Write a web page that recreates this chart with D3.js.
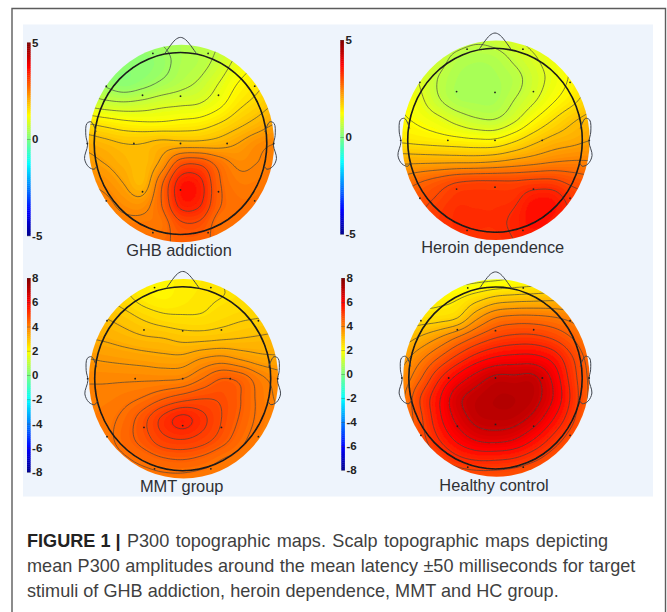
<!DOCTYPE html>
<html>
<head>
<meta charset="utf-8">
<script src="https://cdn.jsdelivr.net/npm/d3@7"></script>
<style>
  html, body { margin: 0; padding: 0; background: #fff; }
  svg { display: block; font-family: "Liberation Sans", Arial, sans-serif; }
</style>
</head>
<body>
<div class="container"></div>
<script>
// values, rows run front of head -> back, columns left -> right
const ghbGrid = [
  [0.3,0.3,0.3,0.3,0.4,0.5,0.6,0.7,0.9,1.1,1.3],
  [0.3,0.2,0.2,0.2,0.3,0.5,0.6,0.8,1.1,1.3,1.5],
  [0.5,0.35,0.2,0.3,0.45,0.6,0.75,1.0,1.3,1.5,1.7],
  [0.9,0.8,0.75,0.8,0.9,0.95,1.0,1.2,1.5,1.7,1.9],
  [1.6,1.5,1.4,1.35,1.35,1.4,1.45,1.6,1.8,2.0,2.2],
  [2.1,2.0,1.9,1.9,2.0,2.0,2.0,2.05,2.2,2.4,2.5],
  [2.3,2.2,2.05,1.95,2.3,3.0,3.05,2.7,2.45,2.5,2.6],
  [2.5,2.4,2.2,2.0,2.75,3.55,3.5,2.85,2.6,2.6,2.7],
  [2.7,2.6,2.4,2.35,2.8,3.5,3.45,2.85,2.7,2.7,2.8],
  [2.8,2.7,2.6,2.6,2.65,3.05,3.05,2.7,2.75,2.7,2.8],
  [2.8,2.8,2.7,2.7,2.75,2.85,2.85,2.75,2.7,2.7,2.7]
];
const heroinGrid = [
  [1.0,1.0,0.95,0.85,0.75,0.8,0.95,1.1,1.25,1.4,1.5],
  [1.1,1.0,0.85,0.6,0.52,0.56,0.75,0.95,1.15,1.35,1.5],
  [1.2,1.0,0.7,0.5,0.46,0.48,0.6,0.85,1.1,1.35,1.55],
  [1.3,1.1,0.75,0.52,0.47,0.48,0.7,0.95,1.25,1.5,1.75],
  [1.35,1.25,1.1,0.9,0.75,0.72,0.95,1.3,1.6,1.85,2.0],
  [1.55,1.5,1.45,1.4,1.35,1.35,1.55,1.8,2.0,2.1,2.2],
  [2.1,2.1,2.1,2.1,2.1,2.15,2.25,2.35,2.45,2.5,2.5],
  [2.6,2.75,2.9,3.05,3.1,3.1,3.1,3.15,3.15,3.0,2.9],
  [2.9,3.0,3.15,3.3,3.3,3.3,3.35,3.6,3.6,3.3,3.2],
  [3.0,3.1,3.25,3.35,3.35,3.35,3.45,3.65,3.55,3.4,3.3],
  [3.1,3.15,3.25,3.3,3.3,3.3,3.4,3.45,3.4,3.35,3.3]
];
const mmtGrid = [
  [2.6,2.5,2.4,2.3,2.25,2.3,2.4,2.5,2.6,2.7,2.8],
  [2.9,2.8,2.6,2.35,2.25,2.35,2.45,2.5,2.55,2.6,2.7],
  [3.2,3.1,2.95,2.75,2.6,2.55,2.55,2.65,2.75,2.8,2.85],
  [3.4,3.35,3.25,3.15,3.1,3.0,3.0,3.05,3.1,3.15,3.2],
  [3.7,3.65,3.6,3.55,3.5,3.5,3.7,3.8,3.65,3.5,3.45],
  [3.95,3.95,3.95,3.95,3.95,4.0,4.3,4.6,4.5,4.1,3.85],
  [4.1,4.1,4.2,4.35,4.6,4.8,4.9,4.85,4.6,4.2,3.95],
  [4.1,4.2,4.4,4.8,5.3,5.6,5.3,4.9,4.55,4.2,4.0],
  [4.1,4.2,4.45,4.75,5.1,5.2,5.05,4.75,4.4,4.1,3.95],
  [4.0,4.1,4.25,4.4,4.55,4.6,4.5,4.3,4.15,3.95,3.85],
  [3.9,4.0,4.1,4.15,4.2,4.2,4.15,4.1,3.95,3.85,3.8]
];
const controlGrid = [
  [1.6,1.6,1.65,1.7,1.75,1.8,1.9,2.0,2.1,2.3,2.4],
  [2.2,2.15,2.2,2.3,2.6,2.9,3.0,3.05,3.1,3.1,3.1],
  [2.5,2.55,2.6,2.8,3.6,4.15,4.3,4.3,4.2,4.0,3.7],
  [3.0,3.3,3.7,4.2,4.7,5.05,5.2,5.2,5.0,4.6,4.1],
  [3.5,4.0,4.6,5.2,5.7,6.0,6.1,6.1,5.8,5.1,4.4],
  [3.8,4.5,5.4,6.1,6.6,6.95,6.95,6.95,6.3,5.3,4.5],
  [4.0,5.0,5.85,6.7,7.05,7.2,7.2,7.05,6.4,5.4,4.5],
  [4.1,4.9,5.8,6.55,7.0,7.1,7.05,6.7,6.0,5.2,4.4],
  [4.1,4.8,5.5,6.1,6.5,6.6,6.45,6.0,5.4,4.8,4.2],
  [4.1,4.6,5.0,5.4,5.6,5.6,5.5,5.2,4.8,4.4,4.1],
  [4.0,4.2,4.5,4.7,4.8,4.8,4.7,4.5,4.3,4.1,3.9]
];

const mapNames = ['GHB addiction', 'Heroin dependence', 'MMT group', 'Healthy control'];
const mapLimits = [5, 5, 8, 8];
const contourSteps = [0.3, 0.3, 0.3, 0.45];
const ticksSmall = [-5, 0, 5];
const ticksLarge = [-8, -6, -4, -2, 0, 2, 4, 6, 8];

// 19 channel 10-20 sites, head radius = 1
const siteX = [-0.32,0.32,-0.86,-0.44,0,0.44,0.86,-1.08,-0.54,0,0.54,1.08,-0.86,-0.44,0,0.44,0.86,-0.32,0.32];
const siteY = [-0.99,-0.99,-0.63,-0.53,-0.52,-0.53,-0.63,0,0,0,0,0,0.63,0.53,0.51,0.53,0.63,0.98,0.98];

// outlines, head radius = 1
const noseX = [-0.18,-0.06,0,0.06,0.19];
const noseY = [-0.99,-1.14,-1.166,-1.14,-0.98];
const earX = [0.977,1.035,1.085,1.097,1.077,1.112,1.066,1.0,0.97];
const earY = [-0.128,-0.238,-0.22,-0.09,0.018,0.165,0.256,0.282,0.245];

const captionBold = 'FIGURE 1 |';
const captionLines = [
  ' P300 topographic maps. Scalp topographic maps depicting',
  'mean P300 amplitudes around the mean latency ±50 milliseconds for target',
  'stimuli of GHB addiction, heroin dependence, MMT and HC group.'
];

// layout
const layouts = [
  {cx:180.5, cy:143.5, rx:86.3, ry:91,   barX:27, barTop:42.5, barBottom:235.5, labelX:179, labelY:255.5},
  {cx:495,   cy:140.3, rx:87.3, ry:92,   barX:340.3, barTop:40, barBottom:234,  labelX:492.7, labelY:252.5},
  {cx:182.7, cy:378.7, rx:88,   ry:92,   barX:27, barTop:278, barBottom:472,    labelX:181.7, labelY:491.5},
  {cx:495.5, cy:378,   rx:86.7, ry:91,   barX:341.3, barTop:278, barBottom:470, labelX:494, labelY:491}
];
const grids = [ghbGrid, heroinGrid, mmtGrid, controlGrid];

const svg = d3.select('.container').append('svg')
  .attr('width', 667).attr('height', 612);

const defs = svg.append('defs');
defs.append('filter').attr('id', 'soft')
  .append('feGaussianBlur').attr('stdDeviation', 0.55);
defs.append('filter').attr('id', 'softer')
  .append('feGaussianBlur').attr('stdDeviation', 0.3);

// frame, open at the bottom
svg.append('path')
  .attr('d', 'M12,612V8.5H665.5V612')
  .attr('fill', 'none').attr('stroke', '#5c5c5c').attr('stroke-width', 1.4);
svg.append('rect')
  .attr('x', 23).attr('y', 24.5).attr('width', 630).attr('height', 472)
  .attr('fill', '#eef4fc');

// jet colour map on -1..1
const jet = d3.scaleLinear()
  .domain([-1, -0.75, -0.25, 0, 0.25, 0.75, 1])
  .range(['#00008c', '#0000ff', '#00ffff', '#7dff82', '#ffff00', '#ff0000', '#800000'])
  .clamp(true);

// catmull-rom resample so the contours come out round instead of faceted
function catmull(a, b, c, d, t) {
  return 0.5 * (2 * b + (c - a) * t + (2 * a - 5 * b + 4 * c - d) * t * t + (3 * b - a - 3 * c + d) * t * t * t);
}
function resample(grid, k) {
  const n = grid.length, size = (n - 1) * k + 1, out = new Array(size * size);
  const at = (r, c) => grid[Math.max(0, Math.min(n - 1, r))][Math.max(0, Math.min(n - 1, c))];
  const bend = (p, f) => {
    const idx = Math.floor(p);
    const t = p - idx;
    return catmull(f(idx - 1), f(idx), f(idx + 1), f(idx + 2), t);
  };
  for (let j = 0; j < size; j++) {
    for (let i = 0; i < size; i++) {
      out[j * size + i] = bend(j / k, r => bend(i / k, c => at(r, c)));
    }
  }
  return {values: out, size};
}

layouts.forEach((lay, idx) => {
  const limit = mapLimits[idx];
  const {values, size} = resample(grids[idx], 8);

  const x = d3.scaleLinear().domain([-1, 1]).range([lay.cx - lay.rx, lay.cx + lay.rx]);
  const y = d3.scaleLinear().domain([-1, 1]).range([lay.cy - lay.ry, lay.cy + lay.ry]);
  const gridX = d3.scaleLinear().domain([0.5, size - 0.5]).range([x(-1.1), x(1.1)]);
  const gridY = d3.scaleLinear().domain([0.5, size - 0.5]).range([y(-1.1), y(1.1)]);
  const path = d3.geoPath(d3.geoTransform({
    point(px, py) { this.stream.point(gridX(px), gridY(py)); }
  }));
  const color = v => jet(v / limit);

  const g = svg.append('g');
  const clipId = 'disc' + idx;
  defs.append('clipPath').attr('id', clipId)
    .append('ellipse')
    .attr('cx', x(0.01)).attr('cy', y(0))
    .attr('rx', x(1.075) - x(0)).attr('ry', y(1.085) - y(0));

  const map = g.append('g').attr('clip-path', `url(#${clipId})`).append('g').attr('filter', 'url(#soft)');

  const fillLevels = d3.range(-limit, limit, limit / 60);
  map.selectAll('path.fill')
    .data(d3.contours().size([size, size]).thresholds(fillLevels)(values))
    .join('path')
    .attr('class', 'fill')
    .attr('d', path)
    .attr('fill', d => color(d.value));

  const step = contourSteps[idx];
  const lineLevels = d3.range(-limit, limit, step);
  map.selectAll('path.line')
    .data(d3.contours().size([size, size]).thresholds(lineLevels)(values))
    .join('path')
    .attr('class', 'line')
    .attr('d', path)
    .attr('fill', 'none')
    .attr('stroke', '#404040')
    .attr('stroke-opacity', 0.65)
    .attr('stroke-width', 1);

  // head outline
  const outline = g.append('g').attr('filter', 'url(#softer)');
  outline.append('ellipse')
    .attr('cx', x(0)).attr('cy', y(0))
    .attr('rx', lay.rx).attr('ry', lay.ry)
    .attr('fill', 'none').attr('stroke', '#1a1a1a').attr('stroke-width', 1.6);

  const curve = d3.line().x(d => x(d[0])).y(d => y(d[1])).curve(d3.curveCatmullRom);
  const thin = sel => sel.attr('fill', 'none').attr('stroke', '#41454d').attr('stroke-width', 1);
  outline.append('path').attr('d', curve(d3.zip(noseX, noseY))).call(thin);
  outline.append('path').attr('d', curve(d3.zip(earX.map(v => -v), earY))).call(thin);
  outline.append('path').attr('d', curve(d3.zip(earX, earY))).call(thin);

  outline.selectAll('circle')
    .data(d3.zip(siteX, siteY))
    .join('circle')
    .attr('cx', d => x(d[0])).attr('cy', d => y(d[1]))
    .attr('r', 0.9).attr('fill', '#222');

  // colour bar
  const barScale = d3.scaleLinear().domain([-limit, limit]).range([lay.barBottom, lay.barTop]);
  const bar = g.append('g').attr('filter', 'url(#softer)');
  bar.selectAll('rect')
    .data(d3.range(-limit, limit, limit / 50))
    .join('rect')
    .attr('x', lay.barX)
    .attr('y', d => barScale(d + limit / 50))
    .attr('width', 3.6)
    .attr('height', d => barScale(d) - barScale(d + limit / 50) + 0.4)
    .attr('fill', d => color(d + limit / 100));

  const axis = d3.axisRight(barScale)
    .tickValues(limit === 5 ? ticksSmall : ticksLarge)
    .tickFormat(d => d)
    .tickSize(0)
    .tickPadding(1.5);
  const axisG = g.append('g')
    .attr('transform', `translate(${lay.barX + 3.6},0)`)
    .call(axis);
  axisG.select('.domain').remove();
  axisG.selectAll('text')
    .attr('font-family', '"Liberation Sans", Arial, sans-serif')
    .attr('font-size', 11.5).attr('font-weight', 'bold').attr('fill', '#222');
  axisG.selectAll('line')
    .attr('x2', -3.6).attr('stroke', '#444').attr('stroke-opacity', 0.35);

  g.append('text')
    .attr('x', lay.labelX).attr('y', lay.labelY)
    .attr('text-anchor', 'middle')
    .attr('font-size', 16.4).attr('fill', '#2e3034')
    .text(mapNames[idx]);
});

// caption
const caption = svg.append('text').attr('font-size', 18.1).attr('fill', '#3f3f3f');
caption.append('tspan').attr('x', 27).attr('y', 547)
  .attr('font-weight', 'bold').attr('fill', '#222').text(captionBold);
caption.append('tspan').attr('word-spacing', 1.4).text(captionLines[0]);
caption.append('tspan').attr('x', 27).attr('y', 572).attr('word-spacing', 0.3).text(captionLines[1]);
caption.append('tspan').attr('x', 27).attr('y', 597).text(captionLines[2]);
</script>
</body>
</html>
